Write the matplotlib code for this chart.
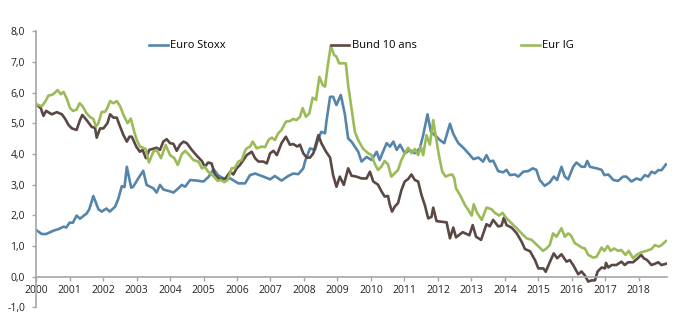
import matplotlib
matplotlib.use("Agg")
import matplotlib.pyplot as plt
from matplotlib.ticker import FuncFormatter, MultipleLocator

# Euro Stoxx (decimal year, value)
stoxx_t = [2000.0, 2000.17, 2000.3, 2000.52, 2000.67, 2000.82, 2000.9,
           2001.0, 2001.1, 2001.21, 2001.31, 2001.51, 2001.59, 2001.71, 2001.86, 2001.96,
           2002.1, 2002.2, 2002.36, 2002.46, 2002.56, 2002.64, 2002.71, 2002.84, 2002.9,
           2003.05, 2003.2, 2003.3, 2003.5, 2003.6, 2003.7, 2003.8,
           2004.0, 2004.1, 2004.25, 2004.35, 2004.45, 2004.6, 2004.8,
           2005.0, 2005.15, 2005.3, 2005.44, 2005.6, 2005.8,
           2006.04, 2006.24, 2006.39, 2006.54, 2006.79,
           2006.99, 2007.13, 2007.33, 2007.53, 2007.68, 2007.83,
           2007.98, 2008.03, 2008.18, 2008.33, 2008.43, 2008.52, 2008.63, 2008.67, 2008.78, 2008.87, 2008.97,
           2009.1, 2009.22, 2009.32, 2009.42, 2009.62, 2009.72, 2009.87,
           2010.02, 2010.17, 2010.26, 2010.36, 2010.47, 2010.57, 2010.67, 2010.77, 2010.87,
           2011.01, 2011.16, 2011.31, 2011.46, 2011.56, 2011.69, 2011.79, 2011.91,
           2012.06, 2012.19, 2012.36, 2012.46, 2012.61, 2012.76, 2012.91,
           2013.06, 2013.21, 2013.35, 2013.45, 2013.55, 2013.65, 2013.8, 2013.95,
           2014.05, 2014.15, 2014.3, 2014.4, 2014.55, 2014.7, 2014.83, 2014.94,
           2015.04, 2015.19, 2015.34, 2015.46, 2015.56, 2015.69, 2015.79, 2015.89,
           2016.04, 2016.14, 2016.29, 2016.39, 2016.46, 2016.54, 2016.74, 2016.89, 2016.97,
           2017.09, 2017.24, 2017.38, 2017.53, 2017.63, 2017.78, 2017.93,
           2018.06, 2018.18, 2018.28, 2018.38, 2018.48, 2018.58, 2018.68, 2018.81]
stoxx_v = [1.52, 1.39, 1.39, 1.5, 1.55, 1.63, 1.6,
           1.76, 1.76, 1.99, 1.89, 2.06, 2.2, 2.63, 2.2, 2.12,
           2.22, 2.12, 2.28, 2.55, 2.95, 2.92, 3.58, 2.9, 2.93,
           3.2, 3.45, 2.99, 2.88, 2.74, 2.99, 2.84,
           2.78, 2.74, 2.88, 2.99, 2.93, 3.15, 3.13,
           3.1, 3.25, 3.5, 3.3, 3.2, 3.2,
           3.04, 3.04, 3.31, 3.36, 3.26,
           3.17, 3.28, 3.13, 3.28, 3.36, 3.34,
           3.53, 3.75, 4.18, 4.13, 4.5, 4.72, 4.67, 5.05, 5.86, 5.86, 5.59,
           5.92, 5.3, 4.5, 4.4, 4.07, 3.75, 3.9,
           3.8, 4.07, 3.8, 4.07, 4.35, 4.24, 4.4, 4.13, 4.3,
           4.02, 4.13, 4.02, 4.18, 4.61, 5.29, 4.72, 4.61,
           4.45, 4.35, 4.98, 4.65, 4.35, 4.2, 4.02,
           3.83, 3.88, 3.75, 3.96, 3.75, 3.78, 3.44, 3.4,
           3.48, 3.31, 3.33, 3.26, 3.42, 3.44, 3.53, 3.48,
           3.15, 2.96, 3.07, 3.26, 3.15, 3.58, 3.26, 3.17,
           3.58, 3.72, 3.58, 3.58, 3.77, 3.58, 3.53, 3.48, 3.31,
           3.33, 3.15, 3.12, 3.26, 3.26, 3.1, 3.2,
           3.15, 3.31, 3.26, 3.42, 3.37, 3.47, 3.47, 3.66]

# Bund 10 ans
bund_t = [2000.0, 2000.14, 2000.22, 2000.3, 2000.47, 2000.62, 2000.77, 2000.87, 2000.97,
          2001.07, 2001.21, 2001.31, 2001.38, 2001.51, 2001.66, 2001.76, 2001.81, 2001.91,
          2002.01, 2002.13, 2002.21, 2002.31, 2002.41, 2002.49, 2002.61, 2002.71, 2002.79, 2002.86,
          2002.99, 2003.1, 2003.18, 2003.28, 2003.38, 2003.6, 2003.7, 2003.8, 2003.9,
          2004.0, 2004.1, 2004.2, 2004.3, 2004.4, 2004.5, 2004.65, 2004.8, 2004.95,
          2005.04, 2005.14, 2005.24, 2005.34, 2005.44, 2005.54, 2005.64, 2005.8, 2005.89, 2005.99,
          2006.09, 2006.19, 2006.29, 2006.44, 2006.54, 2006.64, 2006.79, 2006.89,
          2006.99, 2007.09, 2007.19, 2007.33, 2007.46, 2007.58, 2007.68, 2007.8, 2007.88,
          2007.98, 2008.08, 2008.18, 2008.28, 2008.43, 2008.52, 2008.66, 2008.78, 2008.87, 2008.97,
          2009.07, 2009.19, 2009.32, 2009.42, 2009.57, 2009.72, 2009.87, 2009.97,
          2010.07, 2010.21, 2010.31, 2010.41, 2010.51, 2010.56, 2010.63, 2010.71, 2010.81, 2010.91,
          2011.01, 2011.11, 2011.21, 2011.31, 2011.41, 2011.51, 2011.61, 2011.71, 2011.81, 2011.86, 2011.96,
          2012.11, 2012.26, 2012.36, 2012.46, 2012.54, 2012.74, 2012.94,
          2013.04, 2013.14, 2013.29, 2013.45, 2013.55, 2013.65, 2013.8, 2013.9, 2013.97,
          2014.05, 2014.2, 2014.35, 2014.5, 2014.6, 2014.75, 2014.9,
          2015.0, 2015.15, 2015.22, 2015.34, 2015.46, 2015.56, 2015.69, 2015.84, 2015.94,
          2016.04, 2016.19, 2016.29, 2016.39, 2016.49, 2016.59, 2016.69, 2016.77, 2016.89, 2016.99,
          2017.02, 2017.09, 2017.19, 2017.33, 2017.48, 2017.58, 2017.68, 2017.83, 2017.97,
          2018.07, 2018.15, 2018.25, 2018.38, 2018.48, 2018.58, 2018.68, 2018.81]
bund_v = [5.62, 5.49, 5.24, 5.4, 5.29, 5.36, 5.29, 5.14, 4.94,
          4.83, 4.78, 5.1, 5.27, 5.1, 4.88, 4.85, 4.53, 4.83,
          4.83, 5.0, 5.29, 5.18, 5.18, 4.94, 4.61, 4.4, 4.56, 4.56,
          4.24, 4.07, 4.13, 3.86, 4.13, 4.2, 4.13, 4.4, 4.48,
          4.35, 4.33, 4.1, 4.3, 4.4, 4.35, 4.13, 3.94, 3.77,
          3.58, 3.72, 3.69, 3.33, 3.2, 3.18, 3.18, 3.42, 3.33, 3.53,
          3.64, 3.8, 3.96, 4.07, 3.86, 3.75, 3.75, 3.69,
          4.02, 4.1, 3.96, 4.35, 4.56, 4.3, 4.32, 4.24, 4.3,
          4.02, 3.88, 3.88, 4.02, 4.61, 4.35, 4.07, 3.88, 3.31, 2.93,
          3.26, 2.99, 3.53, 3.29, 3.26, 3.2, 3.2, 3.42,
          3.1, 3.0, 2.79, 2.61, 2.63, 2.36, 2.12, 2.28, 2.4, 2.82,
          3.1, 3.18, 3.33, 3.15, 3.1, 2.66, 2.33, 1.9, 1.95, 2.25, 1.81,
          1.79, 1.77, 1.25, 1.6, 1.28, 1.45, 1.35,
          1.68, 1.3, 1.2, 1.71, 1.64, 1.85, 1.64, 1.66, 1.92,
          1.68, 1.6, 1.42, 1.14, 0.9, 0.83, 0.54,
          0.27, 0.27, 0.16, 0.47, 0.76, 0.6, 0.73, 0.49, 0.54,
          0.38, 0.08, 0.17, 0.04, -0.16, -0.12, -0.12, 0.17, 0.3, 0.27,
          0.45, 0.3, 0.38, 0.38, 0.49, 0.38, 0.47, 0.47, 0.6,
          0.71, 0.6, 0.54, 0.38, 0.42, 0.47, 0.38, 0.42]

# Eur IG
ig_t = [2000.0, 2000.17, 2000.27, 2000.37, 2000.47, 2000.57, 2000.64, 2000.74, 2000.82, 2000.92,
        2001.01, 2001.1, 2001.21, 2001.3, 2001.39, 2001.51, 2001.61, 2001.71, 2001.79, 2001.86, 2001.96,
        2002.06, 2002.13, 2002.21, 2002.31, 2002.41, 2002.51, 2002.61, 2002.73, 2002.83, 2002.93,
        2003.01, 2003.1, 2003.2, 2003.27, 2003.37, 2003.5, 2003.6, 2003.73, 2003.87,
        2004.0, 2004.13, 2004.23, 2004.35, 2004.45, 2004.55, 2004.7, 2004.85, 2004.95,
        2005.04, 2005.14, 2005.24, 2005.34, 2005.42, 2005.52, 2005.62, 2005.72, 2005.84, 2005.94,
        2006.04, 2006.14, 2006.24, 2006.29, 2006.39, 2006.47, 2006.59, 2006.74, 2006.84, 2006.94,
        2007.04, 2007.13, 2007.23, 2007.33, 2007.46, 2007.58, 2007.68, 2007.77, 2007.88, 2007.96,
        2008.06, 2008.16, 2008.26, 2008.36, 2008.46, 2008.56, 2008.63, 2008.7, 2008.8, 2008.9, 2008.97,
        2009.05, 2009.15, 2009.25, 2009.32, 2009.42, 2009.52, 2009.62, 2009.77, 2009.92,
        2010.02, 2010.12, 2010.21, 2010.31, 2010.41, 2010.51, 2010.61, 2010.71, 2010.81, 2010.91,
        2011.01, 2011.11, 2011.21, 2011.31, 2011.41, 2011.49, 2011.56, 2011.66, 2011.76, 2011.86, 2011.93,
        2012.03, 2012.13, 2012.23, 2012.33, 2012.43, 2012.49, 2012.54, 2012.66, 2012.81, 2012.91,
        2013.01, 2013.07, 2013.17, 2013.31, 2013.45, 2013.6, 2013.7, 2013.83, 2013.93,
        2014.05, 2014.2, 2014.35, 2014.5, 2014.65, 2014.8, 2014.94,
        2015.04, 2015.14, 2015.24, 2015.34, 2015.44, 2015.54, 2015.69, 2015.79, 2015.89, 2015.97,
        2016.09, 2016.19, 2016.29, 2016.39, 2016.49, 2016.64, 2016.74, 2016.89, 2016.97,
        2017.07, 2017.16, 2017.26, 2017.38, 2017.48, 2017.6, 2017.7, 2017.83, 2017.93,
        2018.07, 2018.22, 2018.38, 2018.48, 2018.6, 2018.68, 2018.81]
ig_v = [5.62, 5.55, 5.7, 5.9, 5.92, 6.0, 6.08, 5.94, 6.02, 5.79,
        5.5, 5.4, 5.44, 5.65, 5.55, 5.32, 5.2, 5.14, 4.89, 5.0, 5.37,
        5.37, 5.5, 5.72, 5.65, 5.72, 5.55, 5.27, 5.0, 5.15, 4.72,
        4.45, 4.24, 4.2, 4.16, 3.72, 4.07, 4.13, 3.86, 4.29,
        3.96, 3.86, 3.64, 3.99, 4.1, 3.99, 3.8, 3.75, 3.53,
        3.58, 3.42, 3.33, 3.23, 3.12, 3.15, 3.08, 3.15, 3.53, 3.55,
        3.75, 3.8, 4.1, 4.18, 4.24, 4.4, 4.18, 4.24, 4.22, 4.45,
        4.53, 4.45, 4.67, 4.78, 5.05, 5.07, 5.14, 5.1, 5.21, 5.49,
        5.21, 5.32, 5.83, 5.76, 6.51, 6.24, 6.19, 6.79, 7.52, 7.22, 7.17,
        6.95, 6.95, 6.95, 6.24, 5.49, 4.72, 4.45, 4.16, 4.02,
        3.96, 3.66, 3.48, 3.58, 3.77, 3.66, 3.26, 3.37, 3.48, 3.8,
        4.02, 4.2, 4.02, 4.16, 3.96, 4.24, 3.96, 4.61, 4.3, 5.1, 4.61,
        3.96, 3.42, 3.26, 3.31, 3.33, 3.2, 2.88, 2.66, 2.33, 2.17,
        1.99, 2.36, 2.08, 1.85, 2.25, 2.2, 2.08, 1.99, 2.08,
        1.9, 1.74, 1.58, 1.41, 1.25, 1.2, 1.05,
        0.95, 0.84, 0.92, 1.03, 1.41, 1.3, 1.58, 1.3, 1.41, 1.35,
        1.09, 1.03, 0.95, 0.92, 0.71, 0.62, 0.65, 0.95, 0.84,
        1.0, 0.84, 0.92, 0.84, 0.87, 0.71, 0.84, 0.6, 0.71,
        0.79, 0.84, 0.9, 1.03, 0.98, 1.03, 1.16]

years = list(range(2000, 2019))

plt.rcParams['font.family'] = ['Open Sans', 'DejaVu Sans']

fig = plt.figure(figsize=(6.94, 3.21), dpi=100)
ax = fig.add_axes([0.052, 0.0424, 0.909, 0.8607])

ax.plot(stoxx_t, stoxx_v, color='#5585AA', lw=1.9, label='Euro Stoxx')
ax.plot(bund_t, bund_v, color='#5A4844', lw=1.9, label='Bund 10 ans')
ax.plot(ig_t, ig_v, color='#9BBB59', lw=1.9, label='Eur IG')

ax.set_xlim(2000, 2018.84)
ax.set_ylim(-1, 8)
ax.yaxis.set_major_locator(MultipleLocator(1))
ax.yaxis.set_major_formatter(FuncFormatter(lambda v, p: f"{v:.1f}".replace('.', ',')))
ax.set_xticks(years)
ax.set_xticklabels([str(y) for y in years])

for side in ['top', 'right']:
    ax.spines[side].set_visible(False)
ax.spines['bottom'].set_position(('data', 0))
ax.spines['left'].set_color('#A6A6A6')
ax.spines['bottom'].set_color('#A6A6A6')
ax.spines['left'].set_linewidth(1.2)
ax.spines['bottom'].set_linewidth(1.2)
ax.tick_params(axis='both', colors='#A6A6A6', labelcolor='#222222', labelsize=7.5, length=3, width=1)
ax.tick_params(axis='x', pad=3)
ax.tick_params(axis='y', pad=5)

fig.legend(loc='center', bbox_to_anchor=(0.521, 0.857), ncol=3, frameon=False,
           fontsize=8, handlelength=1.7, handletextpad=0.2, columnspacing=9.4)

fig.savefig('out.png', dpi=100)
